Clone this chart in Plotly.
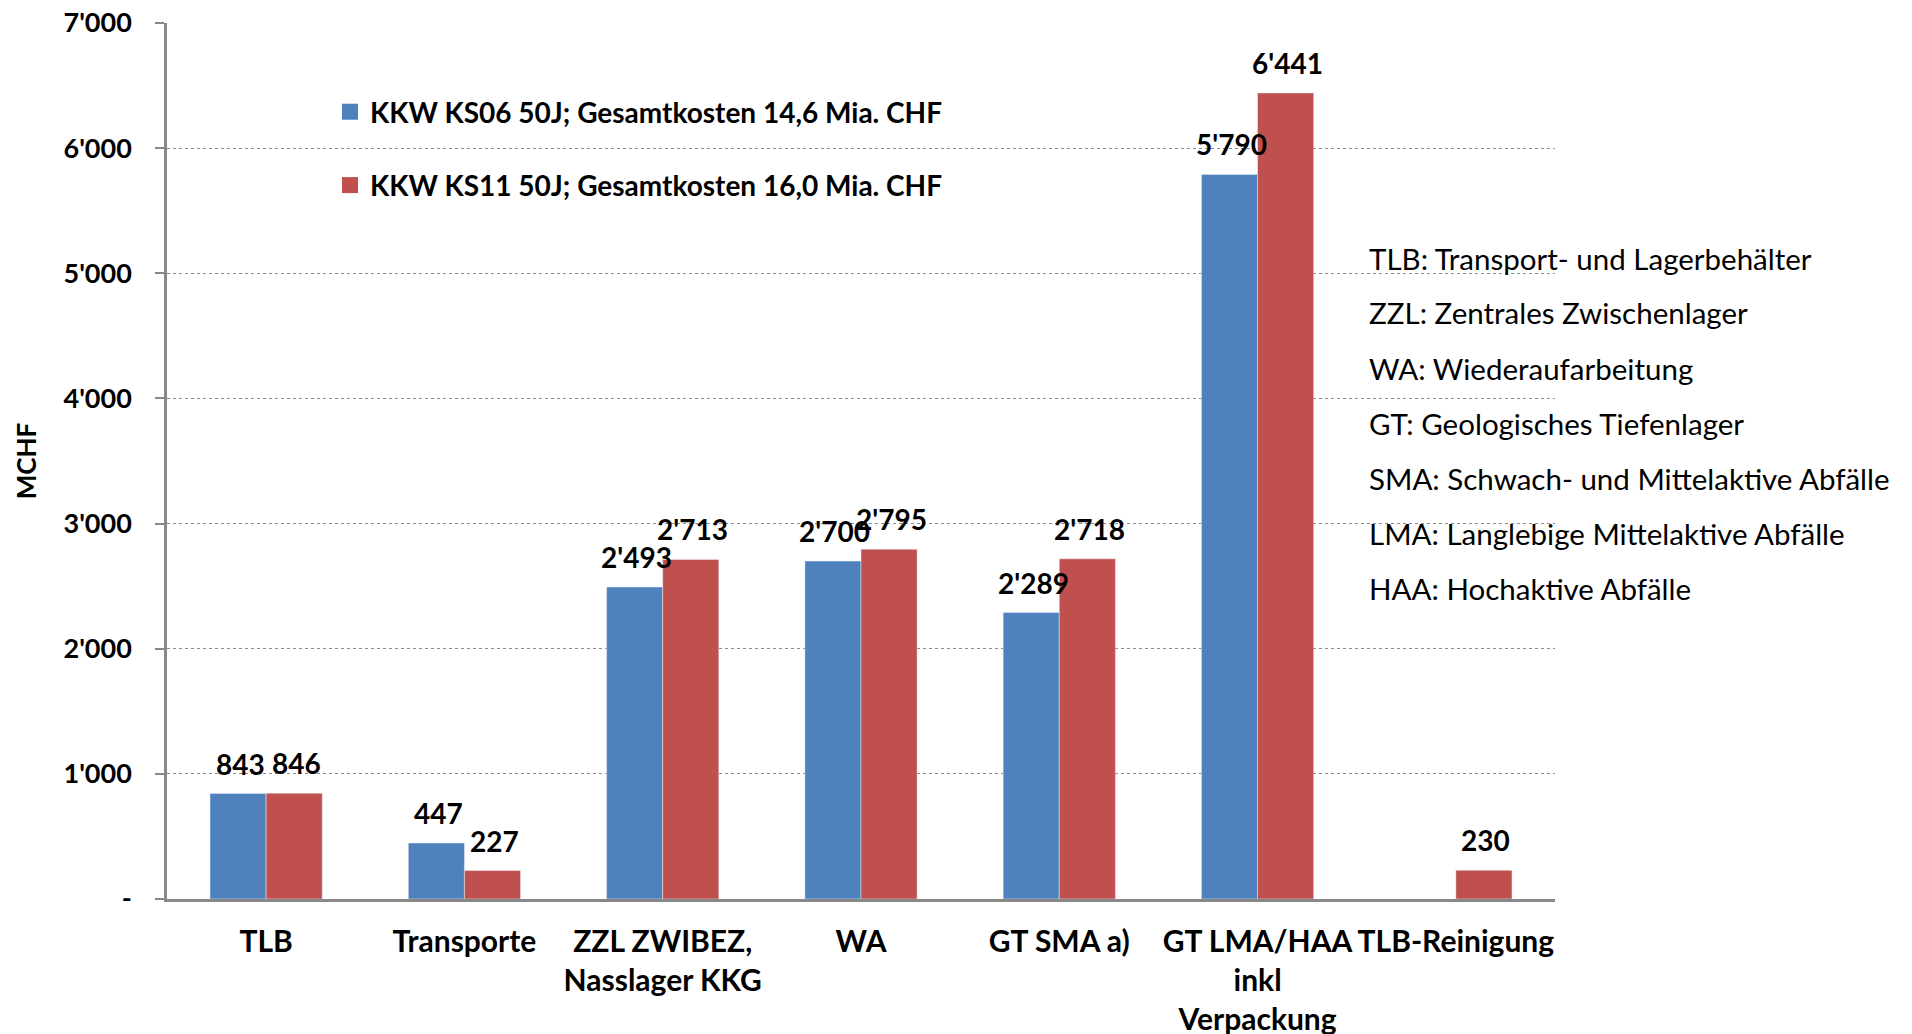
import plotly.graph_objects as go

categories = ["TLB", "Transporte", "ZZL ZWIBEZ,<br>Nasslager KKG", "WA", "GT SMA a)",
              "GT LMA/HAA<br>inkl<br>Verpackung", "TLB-Reinigung"]
ks06 = [843, 447, 2493, 2700, 2289, 5790, None]
ks11 = [846, 227, 2713, 2795, 2718, 6441, 230]
series_names = ["KKW KS06 50J; Gesamtkosten 14,6 Mia. CHF",
                "KKW KS11 50J; Gesamtkosten 16,0 Mia. CHF"]
tick_vals = [0, 1000, 2000, 3000, 4000, 5000, 6000, 7000]
tick_text = ["-", "1'000", "2'000", "3'000", "4'000", "5'000", "6'000", "7'000"]
definitions = [
    "TLB: Transport- und Lagerbehälter",
    "ZZL: Zentrales Zwischenlager",
    "WA: Wiederaufarbeitung",
    "GT: Geologisches Tiefenlager",
    "SMA: Schwach- und Mittelaktive Abfälle",
    "LMA: Langlebige Mittelaktive Abfälle",
    "HAA: Hochaktive Abfälle",
]

BLUE = "#4F81BD"
RED = "#C0504D"
FONT = "Lato"
OFF = 8  # page body margin
W, H = 1912 - OFF, 1034 - OFF
ML, MR, MT, MB = 167 - OFF, 357, 23 - OFF, 135
PW, PH = W - ML - MR, H - MT - MB

fig = go.Figure()
for vals, name, col, grp in ((ks06, series_names[0], BLUE, "a"), (ks11, series_names[1], RED, "b")):
    fig.add_trace(go.Bar(x=categories, y=vals, name=name, marker_color=col,
                         legendgroup=grp, showlegend=False))
    # legend entry with a larger square swatch
    fig.add_trace(go.Scatter(x=[None], y=[None], mode="markers", name=name, legendgroup=grp,
                             marker=dict(symbol="square", size=17, color=col),
                             showlegend=True, hoverinfo="skip"))

def fmt(v):
    return f"{v:,}".replace(",", "'")

annotations = []
half = PW / len(categories) * (1 - 0.434) / 4
for vals, sh in ((ks06, -half), (ks11, half)):
    for c, v in zip(categories, vals):
        if v is None:
            continue
        annotations.append(dict(x=c, y=v, xref="x", yref="y", text=fmt(v), showarrow=False,
                                xshift=sh + 2, yshift=30, yanchor="middle",
                                font=dict(family=FONT, size=28, color="black", weight="bold")))

for i, t in enumerate(definitions):
    py = 258 - OFF + i * 55
    annotations.append(dict(x=(1367 - OFF - ML) / PW, y=(H - MB - py) / PH, xref="paper", yref="paper",
                            text=t, showarrow=False, xanchor="left", yanchor="middle",
                            font=dict(family=FONT, size=29.5, color="black")))

fig.update_layout(
    width=W, height=H,
    margin=dict(l=ML, r=MR, t=MT, b=MB, autoexpand=False),
    paper_bgcolor="white", plot_bgcolor="white",
    barmode="group", bargap=0.434, bargroupgap=0,
    font=dict(family=FONT, color="black"),
    showlegend=True,
    legend=dict(x=(330 - OFF - ML) / PW, y=(H - MB - 87 + OFF) / PH, xanchor="left", yanchor="top",
                traceorder="grouped", tracegroupgap=34, bgcolor="rgba(0,0,0,0)",
                itemsizing="trace", itemwidth=30,
                font=dict(family=FONT, size=28, color="black", weight="bold")),
    annotations=annotations,
)
fig.update_xaxes(
    showline=True, linecolor="#888888", linewidth=2.5,
    ticks="outside", ticklen=14, tickcolor="rgba(0,0,0,0)",
    tickfont=dict(family=FONT, size=30, color="black", weight="bold"),
    range=[-0.5, 6.5], showgrid=False,
)
fig.update_yaxes(
    range=[0, 7000], tickvals=tick_vals, ticktext=tick_text,
    showline=True, linecolor="#888888", linewidth=2.5,
    ticks="outside", ticklen=9, tickcolor="#888888", tickwidth=2,
    ticklabelstandoff=18, ticklabeloverflow="allow",
    tickfont=dict(family=FONT, size=27, color="black", weight="bold"),
    showgrid=True, gridcolor="#8c8c8c", gridwidth=1.2, griddash="dot",
    zeroline=False,
    title=dict(text="MCHF", standoff=20, font=dict(family=FONT, size=26, color="black", weight="bold")),
)

fig.write_html("out.html")
